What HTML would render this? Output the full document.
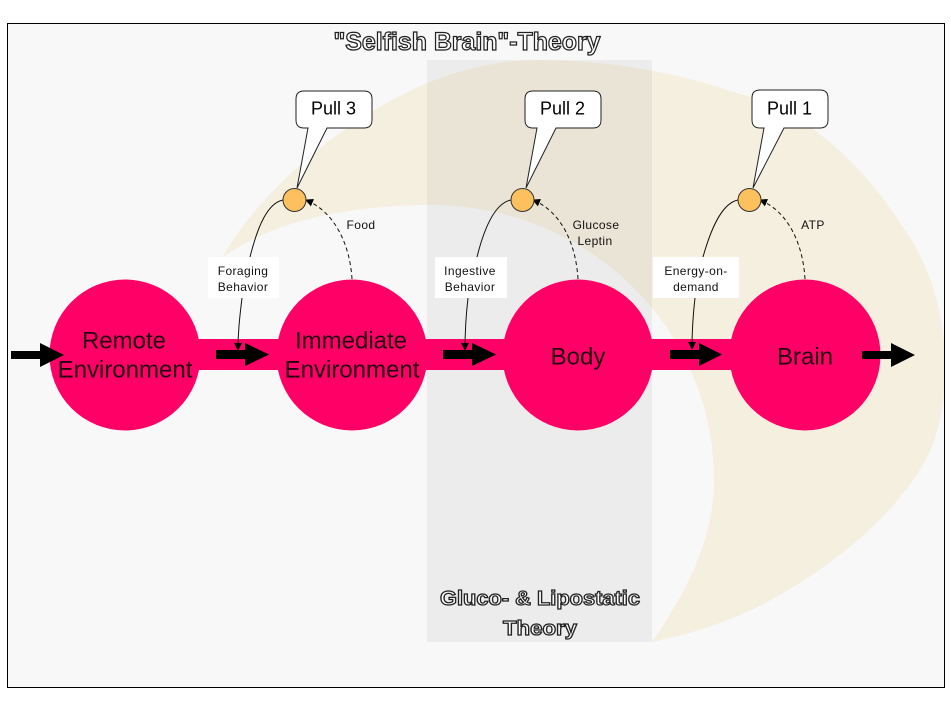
<!DOCTYPE html>
<html lang="en">
<head>
<meta charset="utf-8">
<title>Selfish Brain Theory</title>
<style>
html,body{margin:0;padding:0;background:#fff;width:951px;height:705px;overflow:hidden}
svg{display:block}
text{font-family:"Liberation Sans",Arial,sans-serif}
.o{font-weight:bold;fill:#fff;stroke:#222;stroke-width:1.25px;text-anchor:middle}
.c{font-size:24px;fill:#22000f;text-anchor:middle}
.p{font-size:18px;fill:#000;text-anchor:middle}
.s{font-size:12px;fill:#111;text-anchor:middle;letter-spacing:.4px}
</style>
</head>
<body>
<svg width="951" height="705" viewBox="0 0 951 705" xmlns="http://www.w3.org/2000/svg">
<defs>
<marker id="h" markerWidth="10" markerHeight="10" refX="7" refY="4" orient="auto" markerUnits="userSpaceOnUse"><path d="M0,0L8,4L0,8Z" fill="#000"/></marker>
</defs>
<rect x="7.5" y="23.5" width="937" height="664" fill="#f8f8f8"/>
<path d="M222,258C260,190 345,118 427,83C462,69 500,60 537,60C610,60 675,72 737,93C800,108 860,160 900,223C928,260 945,310 945,365C946,425 930,462 900,497C875,530 810,585 740,615C712,627 682,636 652,642C695,580 714,530 714,480C714,330 590,205 430,205C340,205 265,225 222,258Z" fill="#f5efdf"/>
<rect x="7.5" y="23.5" width="937" height="664" fill="none" stroke="#000" stroke-width="1"/>
<rect x="427" y="60" width="225" height="582" fill="#8c8c8c" fill-opacity=".1"/>

<rect x="125" y="339" width="680" height="31" fill="#ff0066"/>
<circle cx="125" cy="355" r="75.500" fill="#ff0066"/>
<circle cx="352" cy="355" r="75.500" fill="#ff0066"/>
<circle cx="578" cy="355" r="75.500" fill="#ff0066"/>
<circle cx="805" cy="355" r="75.500" fill="#ff0066"/>

<g fill="#000">
<path d="M11,351H40V343L64,355L40,367V359H11Z"/>
<path d="M216,350H245V343L269,354.500L245,366V359H216Z"/>
<path d="M443,350H472V343L496,354.500L472,366V359H443Z"/>
<path d="M670,350H699V343L722,354.500L699,366V359H670Z"/>
<path d="M862,351H891V343L915,355L891,367V359H862Z"/>
</g>

<g fill="none" stroke="#111" stroke-width="1">
<path d="M283,200C268,203 258,225 250,257"/>
<path d="M242,298C240,315 238,330 238,350" marker-end="url(#h)"/>
<path d="M511,200C496,203 485,225 477,257"/>
<path d="M468,298C466,315 465,330 465,350" marker-end="url(#h)"/>
<path d="M738,200C723,203 712,225 703,257"/>
<path d="M695,298C693,315 692,330 692,349" marker-end="url(#h)"/>
<g stroke-dasharray="4 3">
<path d="M352,279C350,245 335,212 306,200" marker-end="url(#h)"/>
<path d="M578,279C576,245 562,212 533,200" marker-end="url(#h)"/>
<path d="M805,279C803,245 789,212 760,200" marker-end="url(#h)"/>
</g>
</g>

<g fill="#fff" stroke="#222" stroke-width="1">
<path d="M304,91H364Q372,91 372,99V120Q372,128 364,128H327L297,188L308,128H304Q296,128 296,120V99Q296,91 304,91Z"/>
<path d="M533,91H593Q601,91 601,99V120Q601,128 593,128H556L526,188L537,128H533Q525,128 525,120V99Q525,91 533,91Z"/>
<path d="M760,90H820Q828,90 828,98V120Q828,128 820,128H784L753,188L764,128H760Q752,128 752,120V98Q752,90 760,90Z"/>
</g>

<g fill="#fdc05e" stroke="#333" stroke-width="1">
<circle cx="294.500" cy="200" r="11.500"/>
<circle cx="522.500" cy="200" r="11.500"/>
<circle cx="749.500" cy="200" r="11.500"/>
</g>

<g fill="#fff">
<rect x="208" y="257" width="71" height="41"/>
<rect x="435" y="257" width="72" height="41"/>
<rect x="653" y="257" width="86" height="41"/>
</g>

<text class="o" x="467" y="50" font-size="25" textLength="267" lengthAdjust="spacingAndGlyphs">"Selfish Brain"-Theory</text>
<text class="o" x="540" y="605" font-size="20" textLength="200" lengthAdjust="spacingAndGlyphs">Gluco- &amp; Lipostatic</text>
<text class="o" x="540" y="635" font-size="20" textLength="74" lengthAdjust="spacingAndGlyphs">Theory</text>

<text class="p" x="333.500" y="114.500">Pull 3</text>
<text class="p" x="562.500" y="114.500">Pull 2</text>
<text class="p" x="789.500" y="114.500">Pull 1</text>

<text class="c" x="124" y="348.500">Remote</text>
<text class="c" x="125" y="377.500">Environment</text>
<text class="c" x="351" y="348.500">Immediate</text>
<text class="c" x="352" y="377.500">Environment</text>
<text class="c" x="578" y="364.500">Body</text>
<text class="c" x="805" y="364.500">Brain</text>

<text class="s" x="243" y="275">Foraging</text>
<text class="s" x="243" y="291">Behavior</text>
<text class="s" x="470" y="275">Ingestive</text>
<text class="s" x="470" y="291">Behavior</text>
<text class="s" x="696" y="275">Energy-on-</text>
<text class="s" x="696" y="291">demand</text>
<text class="s" x="361" y="229">Food</text>
<text class="s" x="596" y="229">Glucose</text>
<text class="s" x="595" y="245">Leptin</text>
<text class="s" x="813" y="229">ATP</text>
</svg>
</body>
</html>
